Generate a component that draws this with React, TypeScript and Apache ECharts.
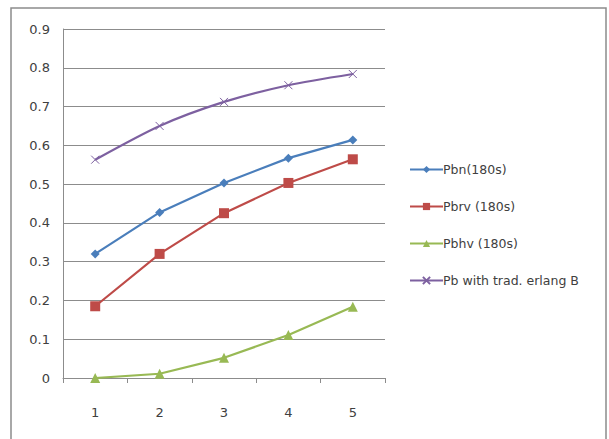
import React, { useEffect, useRef } from "react";
import * as echarts from "echarts";

const categories = ["1", "2", "3", "4", "5"];
const pbn = [0.32, 0.427, 0.503, 0.567, 0.614];
const pbrv = [0.185, 0.32, 0.425, 0.503, 0.564];
const pbhv = [0.0, 0.011, 0.052, 0.111, 0.184];
const pbErlang = [0.563, 0.65, 0.712, 0.755, 0.784];
const seriesNames = ["Pbn(180s)", "Pbrv (180s)", "Pbhv (180s)", "Pb with trad. erlang B"];

const FONT = "'DejaVu Sans', sans-serif";

export default function App() {
  const ref = useRef<HTMLDivElement>(null);
  useEffect(() => {
    if (!ref.current) return;
    const chart = echarts.init(ref.current, undefined, { renderer: "svg" });
    const crossPath = "path://M0,0L10,10M10,0L0,10";
    chart.setOption({
      animation: false,
      backgroundColor: "#ffffff",
      textStyle: { fontFamily: FONT },
      graphic: [
        {
          type: "rect",
          shape: { x: 11, y: 8, width: 595, height: 440 },
          style: { fill: "none", stroke: "#8c8c8c", lineWidth: 1.5 },
          silent: true,
        },
      ],
      grid: { left: 63, top: 29, right: 224, bottom: 61 },
      legend: {
        orient: "vertical",
        left: 404,
        top: 158,
        itemGap: 24,
        itemWidth: 33,
        itemHeight: 9,
        textStyle: { fontFamily: FONT, fontSize: 12.5, color: "#404040", padding: [0, 0, 0, -5] },
        data: seriesNames,
      },
      xAxis: {
        type: "category",
        data: categories,
        boundaryGap: true,
        axisLine: { lineStyle: { color: "#8c8c8c", width: 1 } },
        axisTick: { show: true, length: 5, lineStyle: { color: "#8c8c8c" } },
        axisLabel: { margin: 28, fontSize: 13, color: "#404040", fontFamily: FONT },
      },
      yAxis: {
        type: "value",
        min: 0,
        max: 0.9,
        interval: 0.1,
        axisLine: { show: true, lineStyle: { color: "#8c8c8c", width: 1 } },
        axisTick: { show: false },
        splitLine: { lineStyle: { color: "#8c8c8c", width: 1 } },
        axisLabel: {
          margin: 13,
          fontSize: 13,
          color: "#404040",
          fontFamily: FONT,
          formatter: (v: number) => String(Math.round(v * 10) / 10),
        },
      },
      series: [
        {
          name: seriesNames[0],
          type: "line",
          data: pbn,
          symbol: "diamond",
          symbolSize: 9,
          lineStyle: { color: "#4A7EBB", width: 2.2 },
          itemStyle: { color: "#4A7EBB" },
        },
        {
          name: seriesNames[1],
          type: "line",
          data: pbrv,
          symbol: "rect",
          symbolSize: 10,
          lineStyle: { color: "#BE4B48", width: 2.2 },
          itemStyle: { color: "#BE4B48" },
        },
        {
          name: seriesNames[2],
          type: "line",
          data: pbhv,
          symbol: "triangle",
          symbolSize: 10,
          lineStyle: { color: "#98B954", width: 2.2 },
          itemStyle: { color: "#98B954" },
        },
        {
          name: seriesNames[3],
          type: "line",
          data: pbErlang,
          smooth: 0.25,
          symbol: crossPath,
          symbolSize: 8,
          lineStyle: { color: "#7D60A0", width: 2.2 },
          itemStyle: { color: "#7D60A0", borderColor: "#7D60A0", borderWidth: 1 },
        },
      ],
    });
    return () => chart.dispose();
  }, []);
  return (
    <div
      ref={ref}
      style={{ position: "fixed", left: 0, top: 0, width: 609, height: 439 }}
    />
  );
}
